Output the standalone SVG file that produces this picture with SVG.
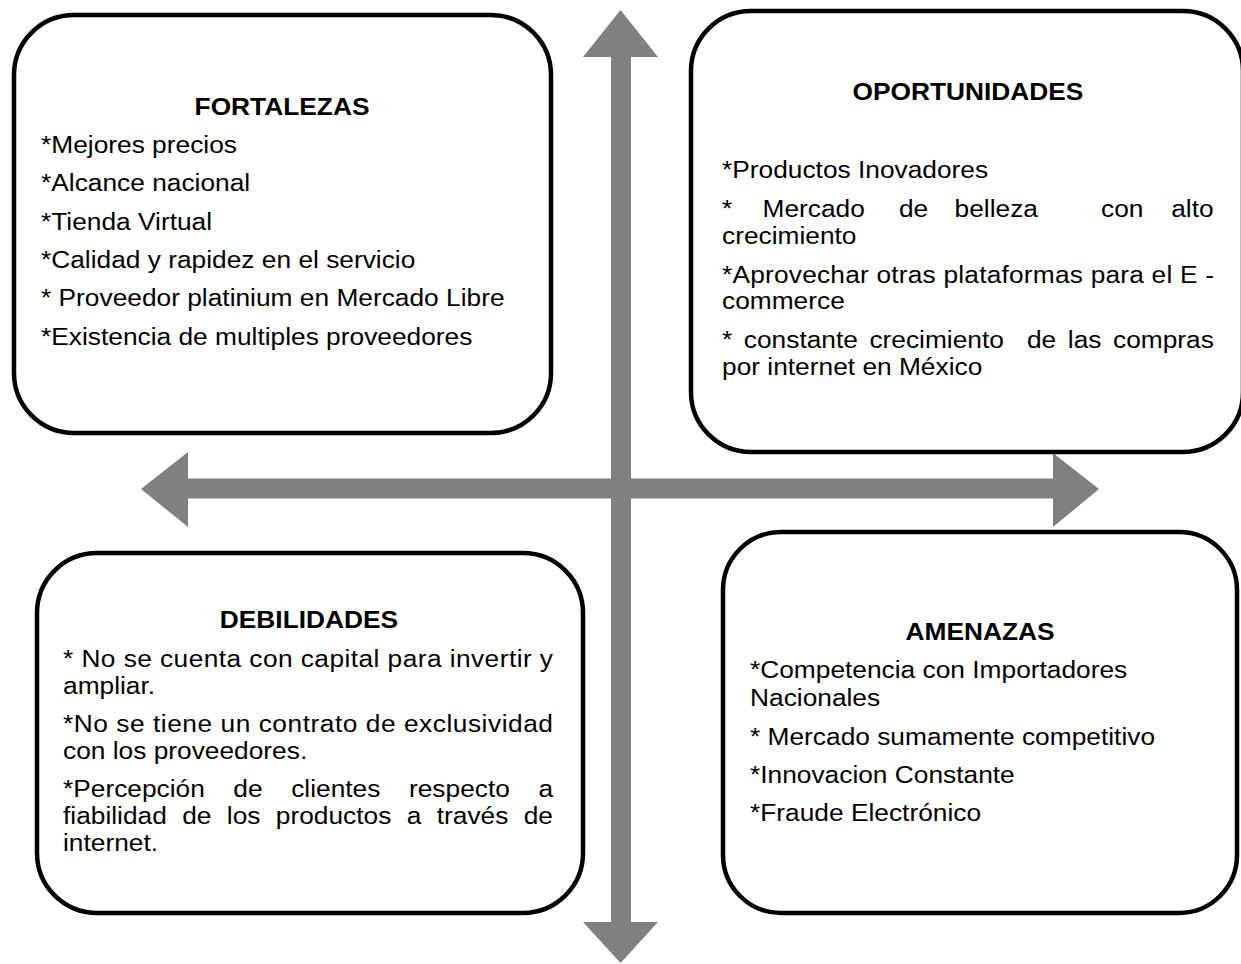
<svg xmlns="http://www.w3.org/2000/svg" width="1241" height="964" viewBox="0 0 1241 964">
<style>
.box{fill:#fff;stroke:#000;stroke-width:4.5}
.arr{fill:#808080;stroke:none}
text{font-family:"Liberation Sans",Arial,sans-serif;font-size:23.5px;fill:#000}
.t{font-weight:bold;text-anchor:middle}
</style>
<rect width="1241" height="964" fill="#fff"/>
<g id="connectors">
<polygon class="arr" points="620.5,10 658,57 631,57 631,922 658,922 620.5,963 583,922 611,922 611,57 583,57"/>
<polygon class="arr" points="141,489 188,452 188,478.5 1053,478.5 1053,453 1099,489 1053,527 1053,498.5 188,498.5 188,527"/>
</g>
<g id="fortalezas">
<rect class="box" x="14" y="15" width="537" height="418" rx="60" ry="60"/>
<g transform="translate(41,0) scale(1.12,1)">
<text class="t" x="215.2" y="115">FORTALEZAS</text>
<text x="0" y="153">*Mejores precios</text>
<text x="0" y="191.5">*Alcance nacional</text>
<text x="0" y="230">*Tienda Virtual</text>
<text x="0" y="268">*Calidad y rapidez en el servicio</text>
<text x="0" y="306.5">* Proveedor platinium en Mercado Libre</text>
<text x="0" y="345">*Existencia de multiples proveedores</text>
</g>
</g>
<g id="oportunidades">
<rect class="box" x="691" y="11" width="552" height="441" rx="60" ry="60"/>
<g transform="translate(722,0) scale(1.12,1)">
<text class="t" x="219.6" y="100">OPORTUNIDADES</text>
<text x="0" y="178">*Productos Inovadores</text>
<text y="217"><tspan x="0">*</tspan><tspan x="36.2">Mercado</tspan><tspan x="158">de</tspan><tspan x="207.7">belleza</tspan><tspan x="338.4">con</tspan><tspan x="401.1">alto</tspan></text>
<text x="0" y="244">crecimiento</text>
<text x="0" y="283" textLength="439.3" lengthAdjust="spacing">*Aprovechar otras plataformas para el E -</text>
<text x="0" y="309">commerce</text>
<text y="348"><tspan x="0">*</tspan><tspan x="19.5">constante</tspan><tspan x="131.6">crecimiento</tspan><tspan x="272.3">de</tspan><tspan x="308.8">las</tspan><tspan x="349.1">compras</tspan></text>
<text x="0" y="375">por internet en México</text>
</g>
</g>
<g id="debilidades">
<rect class="box" x="37" y="553" width="546" height="360" rx="60" ry="60"/>
<g transform="translate(63,0) scale(1.12,1)">
<text class="t" x="219.6" y="628">DEBILIDADES</text>
<text x="0" y="667" textLength="437.5" lengthAdjust="spacing">* No se cuenta con capital para invertir y</text>
<text x="0" y="694">ampliar.</text>
<text x="0" y="732" textLength="437.5" lengthAdjust="spacing">*No se tiene un contrato de exclusividad</text>
<text x="0" y="759">con los proveedores.</text>
<text y="797"><tspan x="0">*Percepción</tspan><tspan x="152.1">de</tspan><tspan x="203.75">clientes</tspan><tspan x="308.9">respecto</tspan><tspan x="424.6">a</tspan></text>
<text y="824"><tspan x="0">fiabilidad</tspan><tspan x="106.4">de</tspan><tspan x="146.25">los</tspan><tspan x="190">productos</tspan><tspan x="306.9">a</tspan><tspan x="333.7">través</tspan><tspan x="411.3">de</tspan></text>
<text x="0" y="851">internet.</text>
</g>
</g>
<g id="amenazas">
<rect class="box" x="723" y="532" width="514" height="381" rx="58" ry="58"/>
<g transform="translate(750,0) scale(1.12,1)">
<text class="t" x="205.4" y="640">AMENAZAS</text>
<text x="0" y="678">*Competencia con Importadores</text>
<text x="0" y="706">Nacionales</text>
<text x="0" y="745">* Mercado sumamente competitivo</text>
<text x="0" y="783">*Innovacion Constante</text>
<text x="0" y="821">*Fraude Electrónico</text>
</g>
</g>
</svg>
